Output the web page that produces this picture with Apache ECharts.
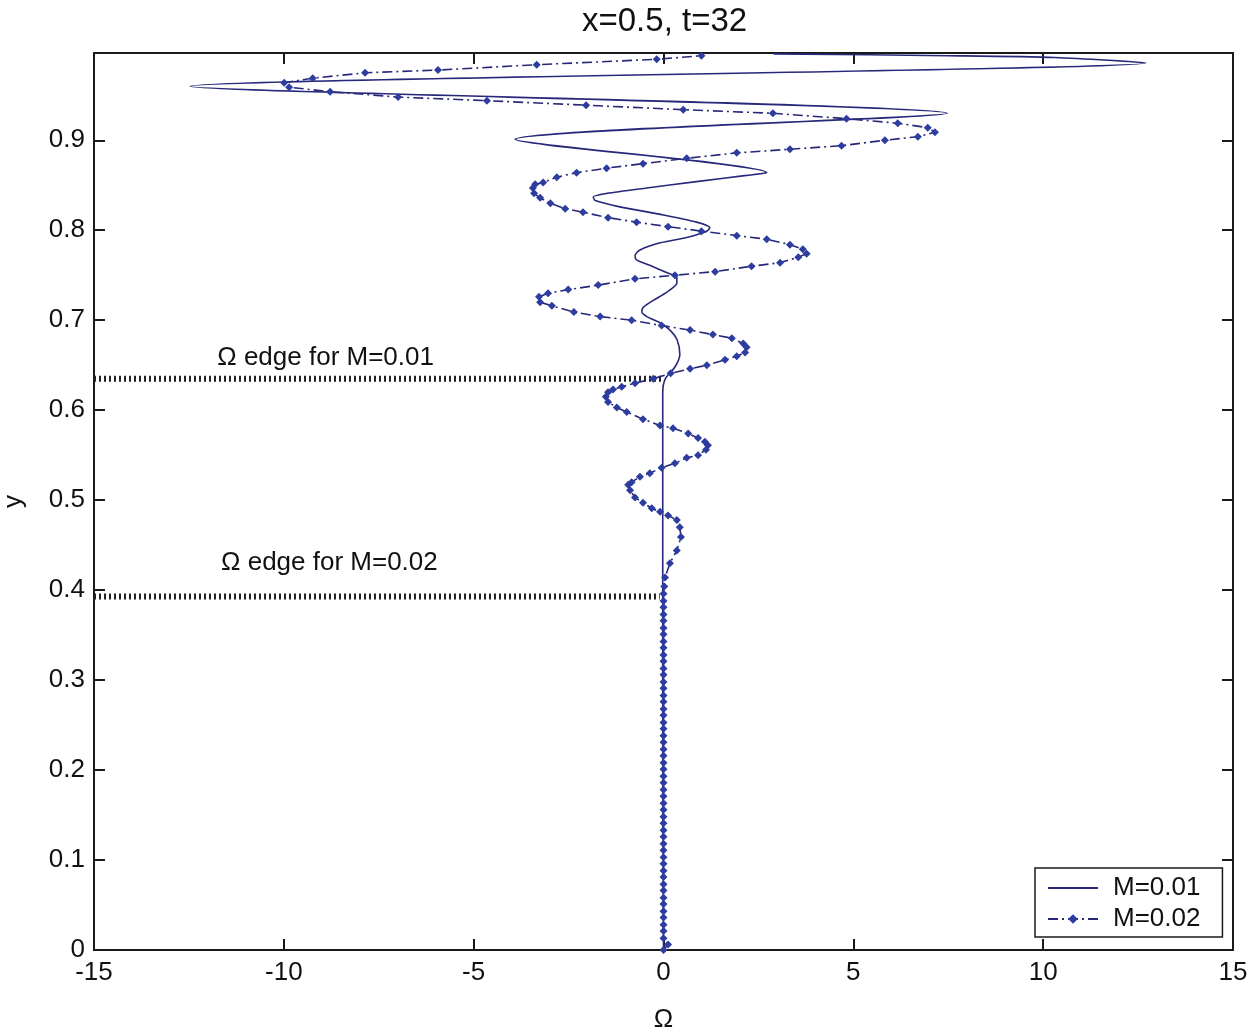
<!DOCTYPE html>
<html>
<head>
<meta charset="utf-8">
<title>x=0.5, t=32</title>
<script src="https://cdn.jsdelivr.net/npm/echarts@6/dist/echarts.min.js"></script>
<style>
  html, body { margin: 0; padding: 0; background: #fff; }
  #chart { width: 1250px; height: 1032px; }
</style>
</head>
<body>
<div id="chart"></div>
<script>
// x ticks and y ticks
const omegaTicks = [-15, -10, -5, 0, 5, 10, 15]
const yTicks = [0, 0.1, 0.2, 0.3, 0.4, 0.5, 0.6, 0.7, 0.8, 0.9]

// M=0.01, [Omega, y], bottom to top
const m01Points = [
  [0.0, 0.0], [-0.02, 0.3], [-0.02, 0.62], [0.05, 0.635], [0.3, 0.648], [0.43, 0.662],
  [0.36, 0.678], [0.17, 0.689], [-0.09, 0.697], [-0.44, 0.704], [-0.57, 0.709], [-0.54, 0.714],
  [-0.27, 0.722], [0.08, 0.731], [0.35, 0.741], [0.35, 0.748], [0.08, 0.753], [-0.36, 0.761],
  [-0.71, 0.767], [-0.75, 0.772], [-0.62, 0.778], [-0.09, 0.786], [0.61, 0.792], [1.14, 0.799],
  [1.22, 0.803], [0.87, 0.809], [0.0, 0.817], [-1.15, 0.826], [-1.8, 0.833], [-1.85, 0.837],
  [-1.49, 0.841], [-0.44, 0.847], [0.87, 0.854], [2.19, 0.861], [2.72, 0.864],
  [-3.91, 0.901], [7.47, 0.930], [-12.47, 0.960], [12.7, 0.986], [10.3, 0.992],
  [7.5, 0.994], [2.9, 0.996]
]

// M=0.02, [Omega, y], bottom to top
const m02Points = [
  [0.0, 0.0], [0.12, 0.006], [0.0, 0.013], [0.0, 0.021], [0.0, 0.028], [0.0, 0.036],
  [0.0, 0.043], [0.0, 0.051], [0.0, 0.058], [0.0, 0.066], [0.0, 0.073], [0.0, 0.081],
  [0.0, 0.088], [0.0, 0.096], [0.0, 0.103], [0.0, 0.111], [0.0, 0.118], [0.0, 0.126],
  [0.0, 0.133], [0.0, 0.141], [0.0, 0.148], [0.0, 0.156], [0.0, 0.163], [0.0, 0.171],
  [0.0, 0.178], [0.0, 0.186], [0.0, 0.193], [0.0, 0.201], [0.0, 0.208], [0.0, 0.216],
  [0.0, 0.223], [0.0, 0.231], [0.0, 0.238], [0.0, 0.246], [0.0, 0.253], [0.0, 0.261],
  [0.0, 0.268], [0.0, 0.276], [0.0, 0.283], [0.0, 0.291], [0.0, 0.298], [0.0, 0.306],
  [0.0, 0.313], [0.0, 0.321], [0.0, 0.328], [0.0, 0.336], [0.0, 0.343], [0.0, 0.351],
  [0.0, 0.358], [0.0, 0.366], [0.0, 0.373], [0.0, 0.381], [0.0, 0.388], [0.0, 0.396],
  [0.02, 0.404], [0.04, 0.414], [0.17, 0.43], [0.35, 0.444], [0.46, 0.459], [0.43, 0.47],
  [0.35, 0.478], [0.12, 0.483], [-0.09, 0.487], [-0.31, 0.491], [-0.54, 0.497], [-0.75, 0.503],
  [-0.88, 0.511], [-0.93, 0.517], [-0.84, 0.52], [-0.62, 0.526], [-0.36, 0.53], [-0.05, 0.536],
  [0.30, 0.541], [0.61, 0.547], [0.91, 0.55], [1.12, 0.556], [1.17, 0.561], [1.09, 0.565],
  [0.91, 0.569], [0.65, 0.574], [0.25, 0.58], [-0.09, 0.583], [-0.54, 0.59], [-0.97, 0.598],
  [-1.23, 0.603], [-1.46, 0.609], [-1.52, 0.615], [-1.46, 0.62], [-1.33, 0.623], [-1.1, 0.626],
  [-0.75, 0.63], [-0.27, 0.635], [0.19, 0.641], [0.70, 0.646], [1.14, 0.65], [1.62, 0.656],
  [1.93, 0.66], [2.15, 0.664], [2.19, 0.67], [2.1, 0.674], [1.8, 0.68], [1.3, 0.684],
  [0.70, 0.689], [-0.05, 0.694], [-0.84, 0.70], [-1.67, 0.704], [-2.36, 0.709], [-2.94, 0.716],
  [-3.25, 0.72], [-3.28, 0.726], [-3.04, 0.73], [-2.51, 0.734], [-1.72, 0.739], [-0.75, 0.746],
  [0.30, 0.75], [1.36, 0.754], [2.32, 0.76], [3.07, 0.764], [3.55, 0.77], [3.77, 0.774],
  [3.67, 0.779], [3.33, 0.784], [2.72, 0.79], [1.93, 0.794], [1.0, 0.799], [0.12, 0.804],
  [-0.71, 0.809], [-1.46, 0.814], [-2.12, 0.82], [-2.59, 0.824], [-2.98, 0.83], [-3.25, 0.836],
  [-3.41, 0.841], [-3.44, 0.847], [-3.38, 0.851], [-3.17, 0.853], [-2.81, 0.859], [-2.29, 0.864],
  [-1.5, 0.869], [-0.54, 0.874], [0.61, 0.88], [1.93, 0.886], [3.33, 0.89], [4.69, 0.894],
  [5.83, 0.90], [6.70, 0.904], [7.15, 0.909], [6.96, 0.914], [6.17, 0.919], [4.82, 0.924],
  [2.88, 0.93], [0.52, 0.934], [-2.04, 0.939], [-4.65, 0.944], [-6.99, 0.948], [-8.78, 0.954],
  [-9.86, 0.959], [-9.99, 0.964], [-9.24, 0.969], [-7.86, 0.975], [-5.94, 0.978], [-3.34, 0.984],
  [-0.18, 0.99], [1.0, 0.994]
]

// dotted "edge" lines
const edgeM01 = [[-15, 0.635], [0.0, 0.635]]
const edgeM02 = [[-15, 0.393], [-0.1, 0.393]]

// text annotations: [Omega, y, text]
const notes = [
  [-8.9, 0.658, 'Ω edge for M=0.01'],
  [-8.8, 0.43, 'Ω edge for M=0.02']
]

const FONT = 'Liberation Sans, Arial, sans-serif'
const LINE = '#27287a'
const DOT = '#2d3c9f'

const chart = echarts.init(document.getElementById('chart'))

const frameAxis = {
  onZero: false,
  lineStyle: { color: '#1a1a1a', width: 2 }
}
const innerTick = {
  show: true,
  inside: true,
  length: 11,
  lineStyle: { color: '#1a1a1a', width: 2 }
}

const option = {
  animation: false,
  backgroundColor: '#fff',
  title: {
    text: 'x=0.5, t=32',
    left: 577,
    top: 0,
    textStyle: { fontFamily: FONT, fontSize: 33, fontWeight: 'normal', color: '#111' }
  },
  grid: { left: 94, top: 53, width: 1139, height: 897, outerBoundsMode: 'none', containLabel: false },
  legend: {
    data: [
      { name: 'M=0.01', itemStyle: { opacity: 0 } },
      { name: 'M=0.02' }
    ],
    orient: 'vertical',
    left: 1035,
    top: 868,
    padding: [7, 22, 5, 12],
    itemGap: 5,
    itemWidth: 50,
    itemHeight: 12,
    borderColor: '#1a1a1a',
    borderWidth: 1.5,
    borderRadius: 0,
    backgroundColor: '#fff',
    textStyle: { fontFamily: FONT, fontSize: 26, color: '#111', padding: [0, 0, 0, 10] }
  },
  xAxis: [
    {
      type: 'value',
      min: -15,
      max: 15,
      interval: 5,
      position: 'bottom',
      name: 'Ω',
      nameLocation: 'middle',
      nameGap: 57,
      nameTextStyle: { fontFamily: FONT, fontSize: 26, color: '#111' },
      axisLine: frameAxis,
      axisTick: innerTick,
      splitLine: { show: false },
      axisLabel: {
        fontFamily: FONT,
        fontSize: 26,
        color: '#111',
        margin: 10,
        formatter: (v) => (omegaTicks.includes(v) ? String(v) : '')
      }
    },
    {
      type: 'value',
      min: -15,
      max: 15,
      interval: 5,
      position: 'top',
      axisLine: frameAxis,
      axisTick: innerTick,
      axisLabel: { show: false },
      splitLine: { show: false }
    }
  ],
  yAxis: [
    {
      type: 'value',
      min: 0,
      max: 0.997,
      interval: 0.1,
      position: 'left',
      name: 'y',
      nameLocation: 'middle',
      nameGap: 67,
      nameRotate: 90,
      nameTextStyle: { fontFamily: FONT, fontSize: 26, color: '#111' },
      axisLine: frameAxis,
      axisTick: innerTick,
      splitLine: { show: false },
      axisLabel: {
        fontFamily: FONT,
        fontSize: 26,
        color: '#111',
        margin: 9,
        showMaxLabel: false,
        formatter: (v) => {
          const r = Math.round(v * 10) / 10
          return yTicks.includes(r) && Math.abs(r - v) < 1e-6 ? String(r) : ''
        }
      }
    },
    {
      type: 'value',
      min: 0,
      max: 0.997,
      interval: 0.1,
      position: 'right',
      axisLine: frameAxis,
      axisTick: innerTick,
      axisLabel: { show: false },
      splitLine: { show: false }
    }
  ],
  series: [
    {
      name: 'edge M=0.01',
      type: 'line',
      data: edgeM01,
      symbol: 'none',
      silent: true,
      lineStyle: { color: '#222', width: 6, type: [2, 3], cap: 'butt' },
      z: 1
    },
    {
      name: 'edge M=0.02',
      type: 'line',
      data: edgeM02,
      symbol: 'none',
      silent: true,
      lineStyle: { color: '#222', width: 6, type: [2, 3], cap: 'butt' },
      z: 1
    },
    {
      name: 'M=0.01',
      type: 'line',
      data: m01Points,
      symbol: 'none',
      smooth: 0.25,
      lineStyle: { color: LINE, width: 1.6 },
      itemStyle: { color: LINE },
      z: 3
    },
    {
      name: 'M=0.02',
      type: 'line',
      data: m02Points,
      symbol: 'diamond',
      symbolSize: 8,
      showSymbol: true,
      smooth: false,
      lineStyle: { color: LINE, width: 1.6, type: [10, 4, 2, 4] },
      itemStyle: { color: DOT },
      z: 4
    },
    {
      name: 'notes',
      type: 'scatter',
      data: notes.map((n) => ({ value: [n[0], n[1]], name: n[2] })),
      symbolSize: 0,
      silent: true,
      itemStyle: { opacity: 1 },
      label: {
        show: true,
        position: 'inside',
        formatter: (p) => p.name,
        fontFamily: FONT,
        fontSize: 26,
        color: '#111',
        opacity: 1
      }
    }
  ]
}

chart.setOption(option)
window.addEventListener('resize', () => chart.resize())
</script>
</body>
</html>
